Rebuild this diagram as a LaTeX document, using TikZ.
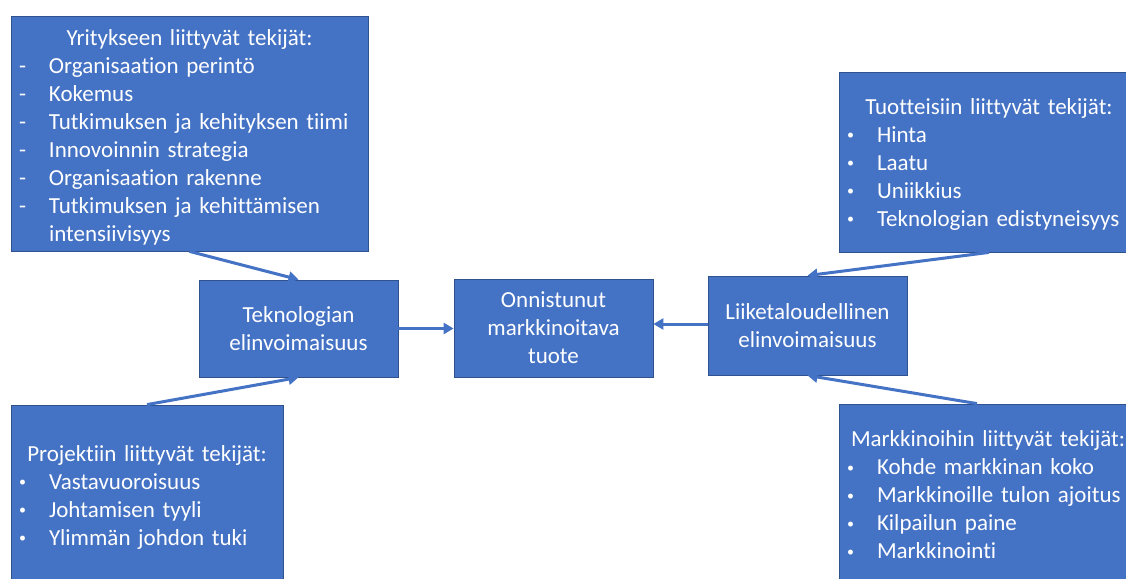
\documentclass[tikz,border=0pt]{standalone}
\usepackage{fontspec}
\setmainfont{Carlito}[Ligatures=NoCommon]
\usetikzlibrary{arrows.meta}
\definecolor{boxfill}{HTML}{4472C4}
\definecolor{boxline}{HTML}{2F528F}
% centred heading line (optional extra room above) and hanging list line
\newcommand\listhead[2][0pt]{\raisebox{0pt}[\dimexpr\height+#1\relax]{\makebox[\linewidth][c]{#2}}}
\newcommand\listline[2]{\hspace*{8pt}\makebox[30pt][l]{#1}#2}
\newcommand\smallbullet{\raisebox{2.5pt}{\fontsize{14}{14}\selectfont\textbullet}}
\begin{document}
\begin{tikzpicture}[x=1pt,y=-1pt,
  box/.style={draw=boxline, line width=0.8pt, fill=boxfill, text=white,
    inner sep=0pt, font=\fontsize{23}{28}\selectfont},
  factor/.style={box, align=left},
  stage/.style={box, align=center, minimum width=199pt},
  flow/.style={draw=boxfill, line width=3pt, -{Triangle[length=10pt,width=11pt]}}
]
\useasboundingbox (0,0) rectangle (1126,578);
\begin{scope}
\clip (0,0) rectangle (1126,578);

% factor groups
\node[factor, text width=357pt, minimum height=235pt] (yr) at (189.5,133.5) {%
  \listhead[7pt]{Yritykseen liittyvät tekijät:}\\
  \listline{-}{Organisaation perintö}\\
  \listline{-}{Kokemus}\\
  \listline{-}{Tutkimuksen ja kehityksen tiimi}\\
  \listline{-}{Innovoinnin strategia}\\
  \listline{-}{Organisaation rakenne}\\
  \listline{-}{Tutkimuksen ja kehittämisen}\\
  \listline{}{intensiivisyys}};

\node[factor, text width=272pt, minimum height=180pt] (pro) at (147,495) {%
  \listhead[4pt]{Projektiin liittyvät tekijät:}\\
  \listline{\smallbullet}{Vastavuoroisuus}\\
  \listline{\smallbullet}{Johtamisen tyyli}\\
  \listline{\smallbullet}{Ylimmän johdon tuki}};

\node[factor, text width=300pt, minimum height=180pt] (tuo) at (989,162) {%
  \listhead[4pt]{Tuotteisiin liittyvät tekijät:}\\
  \listline{\smallbullet}{Hinta}\\
  \listline{\smallbullet}{Laatu}\\
  \listline{\smallbullet}{Uniikkius}\\
  \listline{\smallbullet}{Teknologian edistyneisyys}};

\node[factor, text width=298pt, minimum height=180pt] (mar) at (988,494) {%
  \listhead[2pt]{Markkinoihin liittyvät tekijät:}\\
  \listline{\smallbullet}{Kohde markkinan koko}\\
  \listline{\smallbullet}{Markkinoille tulon ajoitus}\\
  \listline{\smallbullet}{Kilpailun paine}\\
  \listline{\smallbullet}{Markkinointi}};

% viability stages and outcome
\node[stage, minimum height=97pt] (tek) at (298.5,328.5) {Teknologian\\elinvoimaisuus};
\node[stage, minimum height=98pt] (onn) at (553.5,328) {Onnistunut\\markkinoitava\\tuote};
\node[stage, minimum height=99pt] (lii) at (807.5,325.5) {Liiketaloudellinen\\elinvoimaisuus};

\coordinate (martop) at ([xshift=-11pt]mar.north);

% connectors
\draw[flow] (yr.south) -- (tek.north);
\draw[flow] (pro.north) -- (tek.south);
\draw[flow] (tek.east) -- (tek.east -| onn.west);
\draw[flow] (tuo.south) -- (lii.north);
\draw[flow] (martop) -- (lii.south);
\draw[flow] ([yshift=1.5pt]lii.west) -- ([yshift=1.5pt]lii.west -| onn.east);
\end{scope}
\end{tikzpicture}
\end{document}
